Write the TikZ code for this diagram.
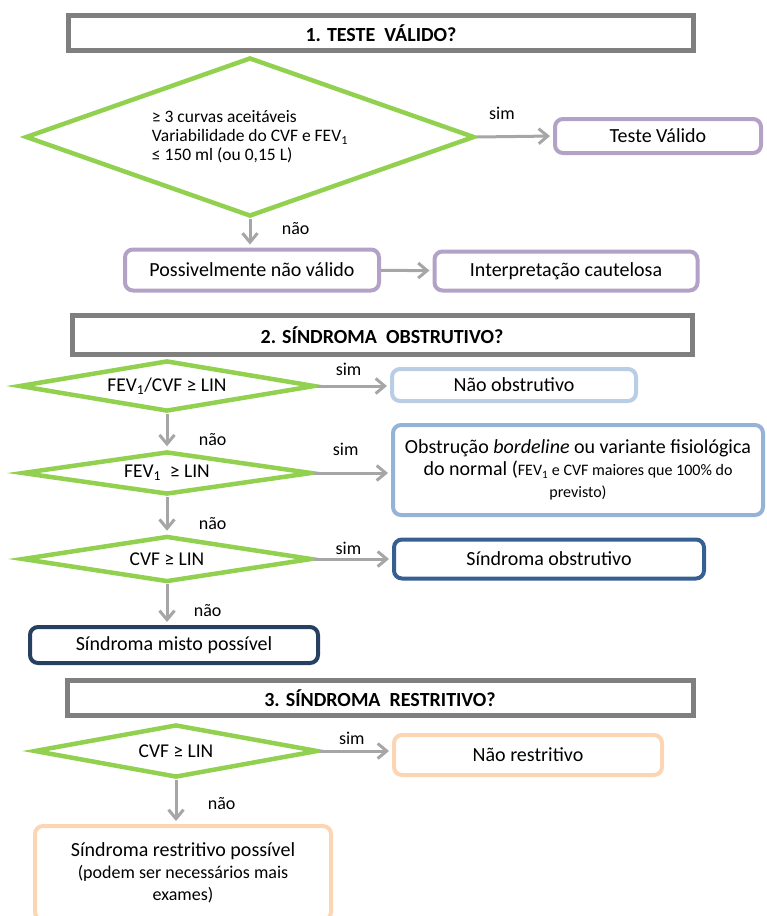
\documentclass[tikz,border=0pt]{standalone}
\usepackage{fontspec}
\setmainfont{Carlito}
\usepackage{tikz}
\usetikzlibrary{arrows.meta,shapes.geometric,positioning}

\definecolor{hdrgray}{HTML}{7F7F7F}
\definecolor{decgreen}{HTML}{92D050}
\definecolor{arrgray}{HTML}{A6A6A6}
\definecolor{lilac}{HTML}{B3A2C7}
\definecolor{paleblue}{HTML}{B9CDE5}
\definecolor{midblue}{HTML}{95B3D7}
\definecolor{darkblue}{HTML}{376092}
\definecolor{deepnavy}{HTML}{254061}
\definecolor{peach}{HTML}{FCD5B5}
\newcommand{\smallf}{\fontsize{16}{22}\selectfont}
\newcommand{\midf}{\fontsize{18}{22}\selectfont}

\begin{document}
\begin{tikzpicture}[x=1pt, y=-1pt, >={Straight Barb[length=9pt,width=15pt]},
    hdr/.style={draw=hdrgray, line width=5pt, minimum height=35pt, font=\fontsize{20}{22}\selectfont\bfseries},
    dec/.style={diamond, draw=decgreen, line width=4.5pt, inner sep=0pt, font=\fontsize{19.5}{22}\selectfont},
    box/.style={rounded corners=8pt, line width=4pt, align=center, font=\fontsize{20}{22}\selectfont},
    flow/.style={->, draw=arrgray, line width=3pt, shorten >=3pt},
    lbl/.style={font=\fontsize{18}{20}\selectfont}]
    \useasboundingbox (0,0) rectangle (767,916);

    % 1. teste valido
    \node[hdr, minimum width=625pt] (h1) at (381,33) {1. TESTE\ \ VÁLIDO?};
    \node[dec, aspect=2.82, minimum width=449pt, minimum height=159pt, align=left, font=\fontsize{17.5}{19}\selectfont] (d1) at (250,137)
        {≥ 3 curvas aceitáveis\\ Variabilidade do CVF e FEV\textsubscript{1}\\ ≤ 150 ml (ou 0,15 L)};
    \node[box, draw=lilac, minimum width=206pt, minimum height=34pt] (tv) at (658,136) {Teste Válido};
    \node[box, draw=lilac, minimum width=254pt, minimum height=41pt] (pnv) at (252,270) {Possivelmente não válido};
    \node[box, draw=lilac, minimum width=263pt, minimum height=39pt] (ic) at (566,271) {Interpretação cautelosa};

    \draw[flow] (d1.east) -- node[lbl, above=12pt, pos=0.33] {sim} (tv.west);
    \draw[flow] (d1.south) -- node[lbl, right=27pt, pos=0.34] {não} (d1.south |- pnv.north);
    \draw[flow] (pnv) -- (ic);

    % 2. sindroma obstrutivo
    \node[hdr, minimum width=620pt, minimum height=39pt] (h2) at (382,335) {2. SÍNDROMA\ \ OBSTRUTIVO?};
    \node[dec, aspect=5.8, minimum width=296pt, minimum height=51pt] (d2) at (167,386) {FEV\textsubscript{1}/CVF ≥ LIN};
    \node[dec, aspect=6.74, minimum width=290pt, minimum height=43pt] (d3) at (167,473) {FEV\textsubscript{1} \ ≥ LIN};
    \node[dec, aspect=6.3, minimum width=290pt, minimum height=46pt] (d4) at (167,559) {CVF ≥ LIN};
    \node[box, draw=paleblue, minimum width=244pt, minimum height=32pt] (nobs) at (514,385) {Não obstrutivo};
    \node[box, draw=midblue, minimum width=370pt, minimum height=90pt] (bord) at (578,470)
        {Obstrução \textit{bordeline} ou variante fisiológica\\ do normal ({\smallf FEV\textsubscript{1} e CVF maiores que 100\% do}\\ {\smallf previsto)}};
    \node[box, draw=darkblue, minimum width=310pt, minimum height=39pt] (sobs) at (549,559) {Síndroma obstrutivo};
    \node[box, draw=deepnavy, minimum width=288pt, minimum height=36pt] (smix) at (174,645) {Síndroma misto possível};

    \draw[flow] (d2.east) -- node[lbl, above=6pt, pos=0.43] {sim} (d2.east -| nobs.west);
    \draw[flow] (d3.east) -- node[lbl, above=13pt, pos=0.41] {sim} (d3.east -| bord.west);
    \draw[flow] (d4.east) -- node[lbl, above=0pt, pos=0.44] {sim} (d4.east -| sobs.west);
    \draw[flow] (d2) -- node[lbl, right=27pt, pos=0.74] {não} (d3);
    \draw[flow] (d3) -- node[lbl, right=27pt, pos=0.73] {não} (d4);
    \draw[flow] (d4.south) -- node[lbl, right=22pt, pos=0.64] {não} (d4.south |- smix.north);

    % 3. sindroma restritivo
    \node[hdr, minimum width=626pt] (h3) at (380,698) {3. SÍNDROMA\ \ RESTRITIVO?};
    \node[dec, aspect=5.36, minimum width=284pt, minimum height=53pt] (d5) at (176,751) {CVF ≥ LIN};
    \node[box, draw=peach, minimum width=268pt, minimum height=40pt] (nres) at (528,755) {Não restritivo};
    \node[box, draw=peach, minimum width=296pt, minimum height=94pt] (sres) at (183,873)
        {Síndroma restritivo possível\\ {\midf (podem ser necessários mais}\\ {\midf exames)}};

    \draw[flow] (d5.east) -- node[lbl, above=2pt, pos=0.44] {sim} (d5.east -| nres.west);
    \draw[flow] (d5.south) -- node[lbl, right=27pt, pos=0.53] {não} (d5.south |- sres.north);
\end{tikzpicture}
\end{document}
